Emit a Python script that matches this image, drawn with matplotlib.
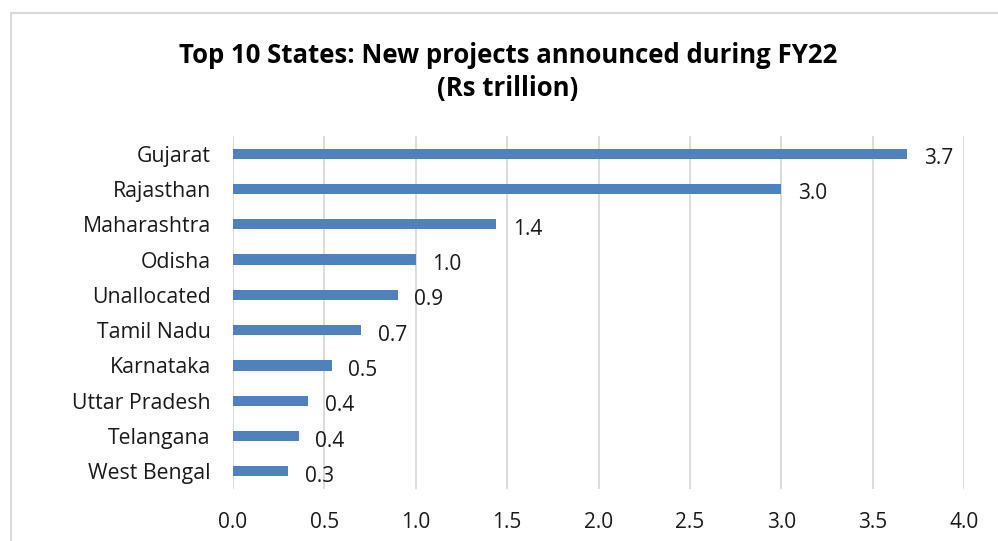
#!/usr/bin/env python3
import matplotlib
matplotlib.use('agg')
import matplotlib.pyplot as plt
from matplotlib.lines import Line2D

states = ['Gujarat', 'Rajasthan', 'Maharashtra', 'Odisha', 'Unallocated',
          'Tamil Nadu', 'Karnataka', 'Uttar Pradesh', 'Telangana', 'West Bengal']
values = [3.69, 3.0, 1.44, 1.0, 0.90, 0.70, 0.54, 0.41, 0.36, 0.30]
xticks = [0.0, 0.5, 1.0, 1.5, 2.0, 2.5, 3.0, 3.5, 4.0]

plt.rcParams['font.family'] = ['Open Sans', 'DejaVu Sans']

fig = plt.figure(figsize=(9.98, 5.41), dpi=100)
ax = fig.add_axes([0.2335, 0.0961, 0.7325, 0.6525])

ypos = list(range(len(states)))
ax.barh(ypos, values, height=0.29, color='#4F81BD', zorder=3)
ax.set_ylim(len(states) - 0.5, -0.5)
ax.set_xlim(0, 4.0)
ax.set_yticks(ypos)
ax.set_yticklabels(states, fontsize=15.3, color='#1a1a1a')
ax.set_xticks(xticks)
ax.set_xticklabels(['%.1f' % t for t in xticks], fontsize=15, color='#1a1a1a')
ax.tick_params(axis='y', length=0, pad=16)
ax.tick_params(axis='x', length=0, pad=16.5)
ax.grid(axis='x', color='#D9D9D9', linewidth=1.3, zorder=0)
for s in ax.spines.values():
    s.set_visible(False)

for y, v in zip(ypos, values):
    ax.annotate('%.1f' % v, (v, y), xytext=(12, -3.6), textcoords='offset points',
                ha='left', va='center', fontsize=15, color='#1a1a1a')

fig.text(0.509, 0.8675, 'Top 10 States: New projects announced during FY22\n(Rs trillion)',
         ha='center', va='center', fontsize=18.5, fontweight='bold',
         linespacing=1.3)

# outer chart frame (left and top edges visible)
fig.add_artist(Line2D([11 / 998, 11 / 998], [0, 1 - 13 / 541], color='#D9D9D9',
                      linewidth=1.5, transform=fig.transFigure))
fig.add_artist(Line2D([11 / 998, 1], [1 - 13 / 541, 1 - 13 / 541], color='#D9D9D9',
                      linewidth=1.5, transform=fig.transFigure))

plt.savefig('out.png', dpi=100)
